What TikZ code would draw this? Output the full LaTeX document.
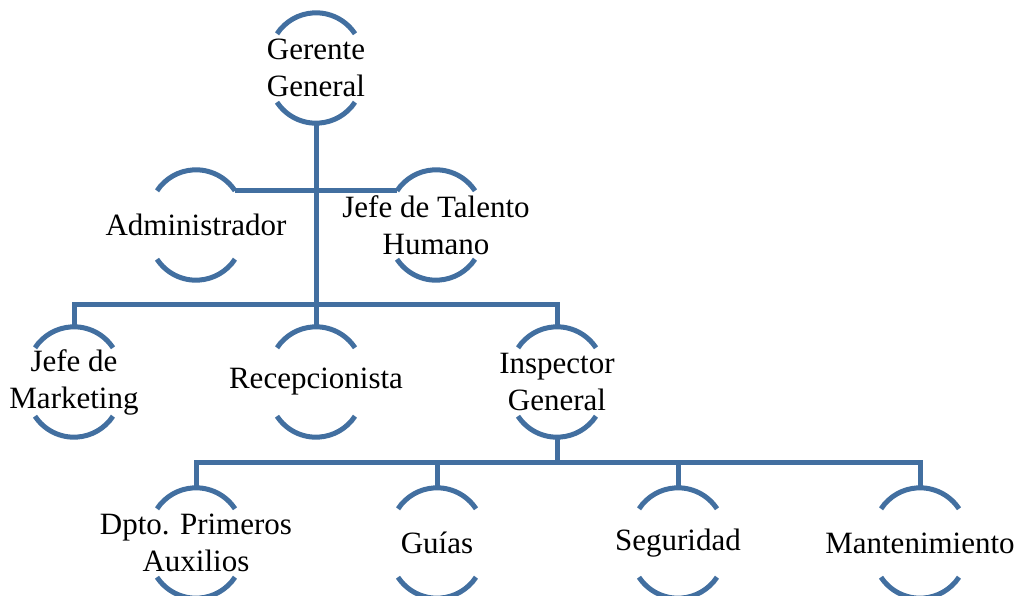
\documentclass[tikz,border=0pt]{standalone}
\usepackage{fontspec}
\setmainfont{Liberation Serif}
\definecolor{orgblue}{RGB}{66,111,160}
\tikzset{
  orgbox/.style={inner sep=0pt, minimum width=80pt, minimum height=110pt, align=center,
    font=\fontsize{31}{37}\selectfont, text=black},
  conn/.style={draw=orgblue, line width=5pt},
}
\newcommand{\orgarcs}[1]{%
  \draw[conn] ([xshift=39pt,yshift=-21pt]#1.north) arc[start angle=33.4, end angle=146.6, radius=46.7pt];
  \draw[conn] ([xshift=-39pt,yshift=21pt]#1.south) arc[start angle=213.4, end angle=326.6, radius=46.7pt];
}
\begin{document}
\begin{tikzpicture}[x=1pt,y=-1pt]
\useasboundingbox (0,0) rectangle (1021,596);
\node[orgbox] (ger) at (316,68) {Gerente\\General};
\node[orgbox] (adm) at (196,225) {Administrador};
\node[orgbox] (tal) at (436,225) {Jefe de Talento\\Humano};
\node[orgbox] (mkt) at (74,382) {Jefe de\\Marketing};
\node[orgbox] (rec) at (316,382) {\raisebox{-4pt}{Recepcionista}};
\node[orgbox] (ins) at (557,382) {Inspector\\General};
\node[orgbox] (dpt) at (196,543) {Dpto. Primeros\\Auxilios};
\node[orgbox] (gui) at (437,543) {Guías};
\node[orgbox] (seg) at (678,543) {Seguridad};
\node[orgbox] (man) at (920,543) {Mantenimiento};
\foreach \n in {ger,adm,tal,mkt,rec,ins,dpt,gui,seg,man} {\orgarcs{\n}}
\coordinate (b3) at (316,305);
\coordinate (b4) at (557,462);
\draw[conn] (ger.south) -- (rec.north);
\draw[conn] ([xshift=39pt,yshift=-21pt]adm.north) -- ([xshift=-39pt,yshift=-21pt]tal.north);
\draw[conn] (mkt.north) |- (b3) -| (ins.north);
\draw[conn] (ins.south) -- (b4);
\draw[conn] (dpt.north) |- (b4) -| (man.north);
\draw[conn] (gui.north) -- (gui.north |- b4);
\draw[conn] (seg.north) -- (seg.north |- b4);
\end{tikzpicture}
\end{document}
